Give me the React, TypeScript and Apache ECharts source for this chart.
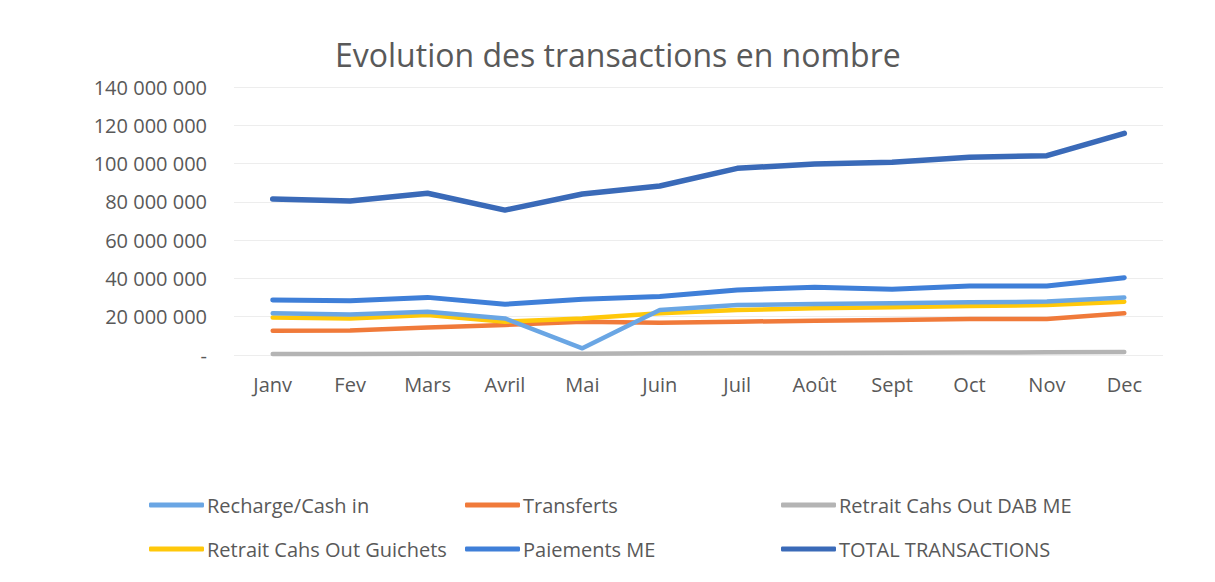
import React, { useEffect, useRef } from "react";
import * as echarts from "echarts";

const months = ["Janv", "Fev", "Mars", "Avril", "Mai", "Juin", "Juil", "Août", "Sept", "Oct", "Nov", "Dec"];

const rechargeCashIn = [21.8, 21.2, 22.6, 19.1, 3.5, 23.5, 26.1, 26.6, 27.0, 27.5, 27.9, 30.0].map((v) => v * 1e6);
const transferts = [12.7, 12.8, 14.4, 15.7, 17.4, 16.9, 17.4, 17.9, 18.3, 18.8, 18.8, 21.8].map((v) => v * 1e6);
const retraitDAB = [0.5, 0.5, 0.6, 0.6, 0.7, 0.9, 1.0, 1.1, 1.2, 1.3, 1.4, 1.6].map((v) => v * 1e6);
const retraitGuichets = [19.6, 19.1, 20.9, 17.4, 19.1, 21.8, 23.5, 24.4, 24.9, 25.6, 26.1, 27.8].map((v) => v * 1e6);
const paiementsME = [28.7, 28.4, 30.1, 26.5, 29.1, 30.5, 34.0, 35.4, 34.3, 36.0, 36.0, 40.4].map((v) => v * 1e6);
const totalTransactions = [81.5, 80.4, 84.5, 75.7, 84.1, 88.3, 97.5, 99.8, 100.7, 103.3, 104.1, 115.8].map((v) => v * 1e6);

const seriesNames = [
  "Recharge/Cash in",
  "Transferts",
  "Retrait Cahs Out DAB ME",
  "Retrait Cahs Out Guichets",
  "Paiements ME",
  "TOTAL TRANSACTIONS",
];
const seriesData = [rechargeCashIn, transferts, retraitDAB, retraitGuichets, paiementsME, totalTransactions];
const colors = ["#6AA6E4", "#F07A3A", "#B4B4B4", "#FFC80A", "#3F7FD8", "#3A6AB8"];
const widths = [4.5, 4.5, 4.5, 4.5, 5, 5.5];

const FONT = "'Open Sans', sans-serif";
const TEXT = "#595959";

function fmt(v: number): string {
  if (v === 0) return "-";
  return String(Math.round(v)).replace(/\B(?=(\d{3})+(?!\d))/g, " ");
}

export default function App() {
  const ref = useRef<HTMLDivElement>(null);
  useEffect(() => {
    document.body.style.margin = "0";
    const chart = echarts.init(ref.current!, null, { renderer: "svg" });
    const legendPos = [
      { left: 149, top: 495 },
      { left: 465, top: 495 },
      { left: 781, top: 495 },
      { left: 149, top: 539 },
      { left: 465, top: 539 },
      { left: 781, top: 539 },
    ];
    chart.setOption({
      animation: false,
      backgroundColor: "#ffffff",
      title: {
        text: "Evolution des transactions en nombre",
        left: 330,
        top: 33,
        textStyle: { fontFamily: FONT, fontSize: 32, fontWeight: "normal", color: TEXT },
      },
      legend: seriesNames.map((n, i) => ({
        data: [n],
        left: legendPos[i].left,
        top: legendPos[i].top,
        padding: 0,
        icon: "roundRect",
        itemWidth: 55,
        itemHeight: 5,
        itemGap: 0,
        selectedMode: false,
        textStyle: { fontFamily: FONT, fontSize: 20, color: TEXT, padding: [0, 0, 0, -2] },
      })),
      grid: { left: 234, right: 52, top: 87, bottom: 227, containLabel: false },
      xAxis: {
        type: "category",
        data: months,
        boundaryGap: true,
        axisLine: { show: false },
        axisTick: { show: false },
        axisLabel: { margin: 19, fontFamily: FONT, fontSize: 20, color: TEXT },
        splitLine: { show: false },
      },
      yAxis: {
        type: "value",
        min: 0,
        max: 140000000,
        interval: 20000000,
        axisLine: { show: false },
        axisTick: { show: false },
        axisLabel: { margin: 27, fontFamily: FONT, fontSize: 20, color: TEXT, formatter: fmt },
        splitLine: { lineStyle: { color: "#EDEDED", width: 1 } },
      },
      series: seriesNames.map((n, i) => ({
        name: n,
        type: "line",
        data: seriesData[i],
        symbol: "none",
        color: colors[i],
        lineStyle: { color: colors[i], width: widths[i], cap: "round", join: "round" },
        z: i === 0 ? 8 : i === 3 ? 7 : 5,
      })),
    });
    return () => chart.dispose();
  }, []);
  return <div ref={ref} style={{ width: 1215, height: 582 }} />;
}
